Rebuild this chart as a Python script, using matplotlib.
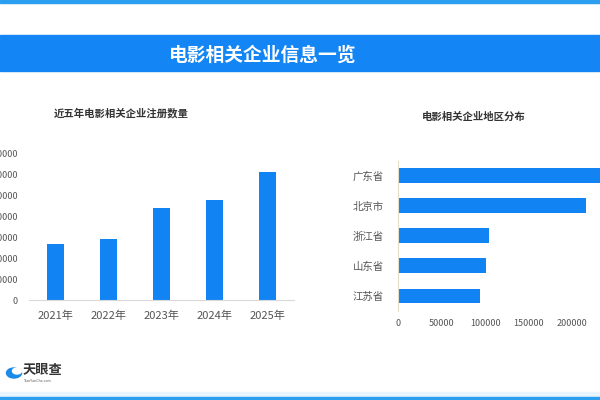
import matplotlib.pyplot as plt
from matplotlib.patches import Rectangle, Circle

plt.rcParams['font.family'] = ['Noto Sans CJK SC', 'DejaVu Sans']

# 数据
years = ['2021年', '2022年', '2023年', '2024年', '2025年']
reg_counts = [26700, 29000, 43700, 47700, 61200]
y_ticks = [0, 10000, 20000, 30000, 40000, 50000, 60000, 70000]

regions = ['广东省', '北京市', '浙江省', '山东省', '江苏省']
region_counts = [250000, 215700, 104600, 100800, 94300]
x_ticks = [0, 50000, 100000, 150000, 200000, 250000]

BLUE = '#1283f2'
W, H = 600, 400

fig = plt.figure(figsize=(6, 4), dpi=100)
fig.patch.set_facecolor('white')


def px_axes(left, top, right, bottom):
    # 像素坐标 -> figure 坐标
    return fig.add_axes([left / W, 1 - bottom / H, (right - left) / W, (bottom - top) / H])


# 顶部细线和标题栏
fig.patches.append(Rectangle((0, 1 - 2.5 / H), 1, 2.5 / H, transform=fig.transFigure,
                             color='#2b9ef0', zorder=0))
fig.patches.append(Rectangle((0, 1 - 70.7 / H), 1, 35.7 / H, transform=fig.transFigure,
                             color='#1485f4', zorder=0))
fig.text(262.5 / W, 1 - 55 / H, '电影相关企业信息一览', color='white', fontsize=13.5,
         fontweight='bold', ha='center', va='center')

# 底部细线
fig.patches.append(Rectangle((0, 0), 1, 8 / H, transform=fig.transFigure,
                             color='#e8f5fd', zorder=0))
fig.patches.append(Rectangle((0, 0), 1, 3.5 / H, transform=fig.transFigure,
                             color='#2b9ef0', zorder=0))

# 左图：注册数量
ax1 = px_axes(29, 153.3, 294, 300)
ax1.bar(range(len(years)), reg_counts, width=0.32, color=BLUE, zorder=2)
ax1.set_xlim(-0.5, len(years) - 0.5)
ax1.set_ylim(0, 70000)
ax1.set_yticks(y_ticks)
ax1.set_xticks(range(len(years)))
ax1.set_xticklabels(years)
for s in ['top', 'right', 'left']:
    ax1.spines[s].set_visible(False)
ax1.spines['bottom'].set_color('#d9d9d9')
ax1.tick_params(axis='y', length=0, pad=8, labelsize=6.5, labelcolor='#555555')
ax1.tick_params(axis='x', length=0, pad=8, labelsize=8, labelcolor='#555555')
fig.text(120.8 / W, 1 - 113.3 / H, '近五年电影相关企业注册数量', fontsize=7.5,
         fontweight='bold', color='#333333', ha='center', va='center')

# 右图：地区分布
ax2 = px_axes(398, 160.5, 616, 310.8)
ax2.barh(range(len(regions)), region_counts, height=0.48, color=BLUE, zorder=2)
ax2.set_ylim(len(regions) - 0.5, -0.5)
ax2.set_xlim(0, 250000)
ax2.set_xticks(x_ticks)
ax2.set_yticks(range(len(regions)))
ax2.set_yticklabels(regions)
for s in ['top', 'right', 'bottom']:
    ax2.spines[s].set_visible(False)
ax2.spines['left'].set_color('#e6dcc8')
ax2.tick_params(axis='x', length=0, pad=6, labelsize=6.5, labelcolor='#555555')
ax2.tick_params(axis='y', length=0, pad=10, labelsize=7.5, labelcolor='#555555')
fig.text(473.3 / W, 1 - 116.7 / H, '电影相关企业地区分布', fontsize=7.5,
         fontweight='bold', color='#333333', ha='center', va='center')

# 天眼查 标志
fig.patches.append(Circle((14 / W, 1 - 373 / H), 7.5 / W, transform=fig.transFigure,
                          color='#1a8be8', zorder=3))
fig.patches.append(Circle((17 / W, 1 - 371 / H), 4.5 / W, transform=fig.transFigure,
                          color='white', zorder=4))
fig.text(23 / W, 1 - 370 / H, '天眼查', fontsize=9.5, fontweight='bold', color='#333333',
         ha='left', va='center')
fig.text(24 / W, 1 - 381 / H, 'TianYanCha.com', fontsize=2.5, color='#555555',
         ha='left', va='center')

fig.savefig('out.png', dpi=100)
